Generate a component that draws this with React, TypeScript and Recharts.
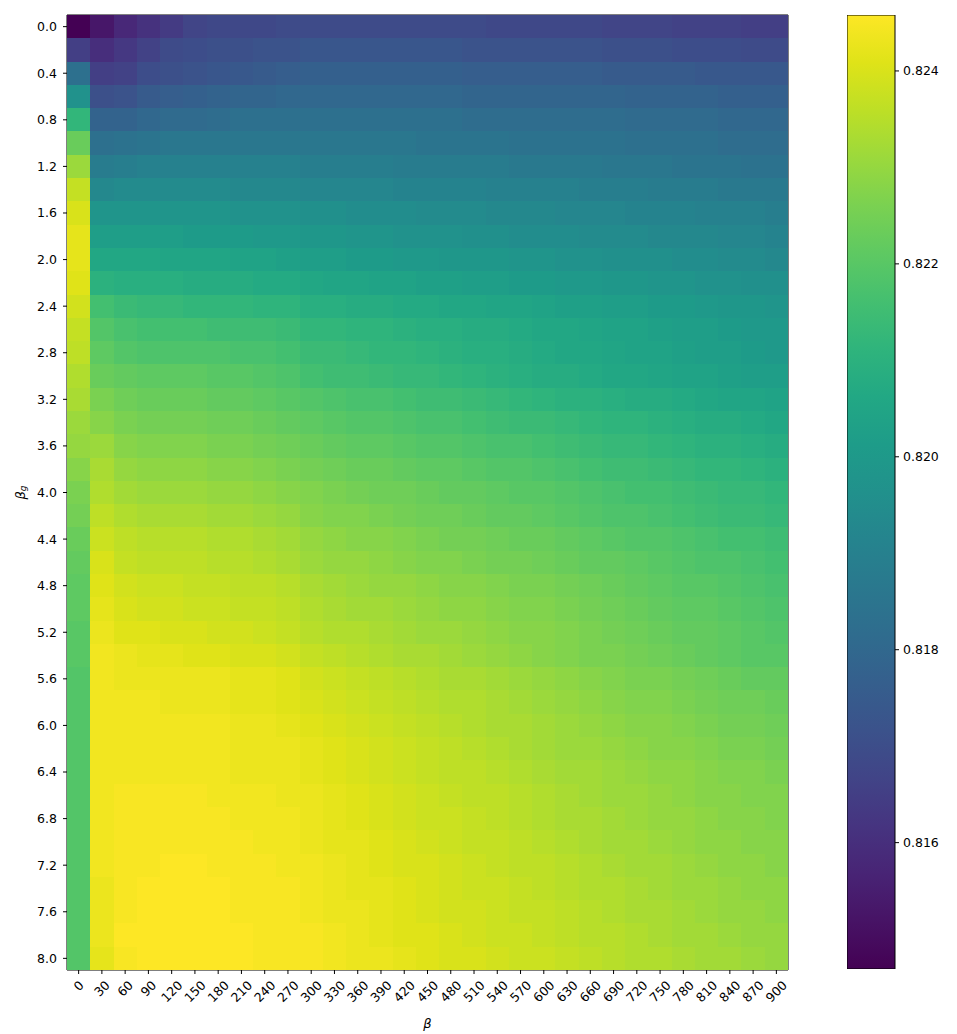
import React from 'react';
import {
  ScatterChart,
  Scatter,
  XAxis,
  YAxis,
  ReferenceArea,
  Label,
  BarChart,
  Bar,
} from 'recharts';

// beta (columns) and beta_g (rows)
const betas = [
  0, 30, 60, 90, 120, 150, 180, 210, 240, 270, 300, 330, 360, 390, 420, 450,
  480, 510, 540, 570, 600, 630, 660, 690, 720, 750, 780, 810, 840, 870, 900,
];
const betaG = [
  0.0, 0.2, 0.4, 0.6, 0.8, 1.0, 1.2, 1.4, 1.6, 1.8, 2.0, 2.2, 2.4, 2.6, 2.8,
  3.0, 3.2, 3.4, 3.6, 3.8, 4.0, 4.2, 4.4, 4.6, 4.8, 5.0, 5.2, 5.4, 5.6, 5.8,
  6.0, 6.2, 6.4, 6.6, 6.8, 7.0, 7.2, 7.4, 7.6, 7.8, 8.0,
];

// one row per beta_g, one value per beta
const scores = [
  [0.8147,0.8153,0.8158,0.8161,0.8164,0.8167,0.8168,0.8168,0.8168,0.8169,0.8169,0.8169,0.8169,0.8169,0.8169,0.8169,0.8169,0.8169,0.8168,0.8168,0.8168,0.8168,0.8168,0.8167,0.8167,0.8167,0.8166,0.8166,0.8166,0.8165,0.8165],
  [0.8165,0.8160,0.8163,0.8166,0.8169,0.8170,0.8171,0.8171,0.8172,0.8172,0.8173,0.8173,0.8173,0.8173,0.8173,0.8173,0.8173,0.8172,0.8172,0.8172,0.8172,0.8172,0.8172,0.8171,0.8171,0.8171,0.8170,0.8170,0.8170,0.8169,0.8169],
  [0.8183,0.8165,0.8166,0.8170,0.8171,0.8172,0.8173,0.8174,0.8175,0.8176,0.8177,0.8177,0.8177,0.8177,0.8177,0.8177,0.8177,0.8176,0.8176,0.8176,0.8176,0.8176,0.8176,0.8175,0.8175,0.8175,0.8175,0.8174,0.8174,0.8174,0.8174],
  [0.8197,0.8171,0.8172,0.8175,0.8176,0.8177,0.8178,0.8179,0.8179,0.8180,0.8180,0.8180,0.8180,0.8180,0.8180,0.8180,0.8180,0.8179,0.8179,0.8179,0.8179,0.8179,0.8179,0.8179,0.8178,0.8178,0.8178,0.8178,0.8177,0.8177,0.8177],
  [0.8212,0.8178,0.8178,0.8180,0.8181,0.8181,0.8182,0.8183,0.8183,0.8183,0.8183,0.8183,0.8183,0.8183,0.8183,0.8183,0.8183,0.8182,0.8182,0.8182,0.8182,0.8182,0.8182,0.8182,0.8181,0.8181,0.8181,0.8181,0.8180,0.8180,0.8180],
  [0.8223,0.8183,0.8184,0.8185,0.8186,0.8186,0.8186,0.8186,0.8186,0.8186,0.8186,0.8186,0.8186,0.8186,0.8186,0.8185,0.8185,0.8185,0.8185,0.8184,0.8184,0.8184,0.8184,0.8184,0.8183,0.8183,0.8183,0.8183,0.8182,0.8182,0.8182],
  [0.8231,0.8188,0.8189,0.8190,0.8190,0.8190,0.8190,0.8190,0.8190,0.8190,0.8189,0.8189,0.8189,0.8189,0.8188,0.8188,0.8188,0.8188,0.8188,0.8187,0.8187,0.8187,0.8187,0.8186,0.8186,0.8186,0.8185,0.8185,0.8185,0.8184,0.8184],
  [0.8237,0.8193,0.8194,0.8194,0.8194,0.8194,0.8194,0.8193,0.8193,0.8193,0.8192,0.8192,0.8192,0.8192,0.8191,0.8191,0.8191,0.8191,0.8190,0.8190,0.8190,0.8190,0.8189,0.8189,0.8189,0.8188,0.8188,0.8188,0.8187,0.8187,0.8187],
  [0.8240,0.8198,0.8198,0.8198,0.8198,0.8198,0.8198,0.8197,0.8197,0.8197,0.8196,0.8196,0.8195,0.8195,0.8195,0.8194,0.8194,0.8194,0.8193,0.8193,0.8193,0.8192,0.8192,0.8192,0.8191,0.8191,0.8191,0.8190,0.8190,0.8190,0.8189],
  [0.8242,0.8202,0.8202,0.8202,0.8202,0.8201,0.8201,0.8201,0.8200,0.8200,0.8199,0.8199,0.8198,0.8198,0.8197,0.8197,0.8197,0.8196,0.8196,0.8195,0.8195,0.8195,0.8194,0.8194,0.8194,0.8193,0.8193,0.8193,0.8192,0.8192,0.8191],
  [0.8242,0.8206,0.8206,0.8206,0.8205,0.8205,0.8205,0.8204,0.8204,0.8203,0.8202,0.8202,0.8201,0.8201,0.8200,0.8200,0.8199,0.8199,0.8199,0.8198,0.8198,0.8197,0.8197,0.8196,0.8196,0.8196,0.8195,0.8195,0.8194,0.8194,0.8193],
  [0.8241,0.8210,0.8209,0.8209,0.8209,0.8208,0.8208,0.8208,0.8207,0.8207,0.8206,0.8205,0.8205,0.8204,0.8204,0.8203,0.8203,0.8202,0.8202,0.8201,0.8201,0.8200,0.8200,0.8199,0.8199,0.8198,0.8198,0.8197,0.8197,0.8196,0.8196],
  [0.8239,0.8216,0.8214,0.8213,0.8213,0.8212,0.8212,0.8212,0.8211,0.8211,0.8209,0.8209,0.8208,0.8208,0.8207,0.8207,0.8206,0.8206,0.8205,0.8205,0.8204,0.8203,0.8203,0.8202,0.8202,0.8201,0.8201,0.8200,0.8199,0.8199,0.8198],
  [0.8237,0.8219,0.8217,0.8216,0.8216,0.8216,0.8215,0.8215,0.8215,0.8214,0.8212,0.8212,0.8211,0.8211,0.8210,0.8209,0.8209,0.8208,0.8208,0.8207,0.8206,0.8206,0.8205,0.8204,0.8204,0.8203,0.8202,0.8202,0.8201,0.8200,0.8200],
  [0.8236,0.8221,0.8219,0.8218,0.8218,0.8218,0.8218,0.8217,0.8217,0.8216,0.8214,0.8214,0.8213,0.8212,0.8212,0.8211,0.8210,0.8209,0.8209,0.8208,0.8207,0.8206,0.8206,0.8205,0.8204,0.8204,0.8203,0.8202,0.8202,0.8201,0.8200],
  [0.8234,0.8223,0.8222,0.8221,0.8221,0.8221,0.8220,0.8220,0.8219,0.8218,0.8216,0.8215,0.8215,0.8214,0.8213,0.8213,0.8212,0.8211,0.8210,0.8209,0.8208,0.8208,0.8207,0.8206,0.8206,0.8205,0.8204,0.8204,0.8203,0.8202,0.8202],
  [0.8233,0.8226,0.8224,0.8223,0.8223,0.8223,0.8222,0.8222,0.8221,0.8220,0.8219,0.8218,0.8217,0.8217,0.8216,0.8215,0.8215,0.8214,0.8213,0.8212,0.8211,0.8210,0.8210,0.8209,0.8208,0.8208,0.8207,0.8206,0.8205,0.8205,0.8204],
  [0.8231,0.8228,0.8226,0.8225,0.8225,0.8225,0.8224,0.8224,0.8223,0.8222,0.8221,0.8220,0.8219,0.8219,0.8218,0.8217,0.8217,0.8216,0.8215,0.8214,0.8214,0.8213,0.8212,0.8211,0.8211,0.8210,0.8209,0.8208,0.8208,0.8207,0.8206],
  [0.8230,0.8231,0.8228,0.8227,0.8227,0.8227,0.8226,0.8226,0.8225,0.8224,0.8223,0.8222,0.8221,0.8221,0.8220,0.8219,0.8219,0.8218,0.8217,0.8217,0.8216,0.8215,0.8214,0.8213,0.8213,0.8212,0.8211,0.8210,0.8210,0.8209,0.8208],
  [0.8228,0.8233,0.8230,0.8229,0.8229,0.8229,0.8228,0.8228,0.8227,0.8226,0.8225,0.8224,0.8223,0.8223,0.8222,0.8221,0.8221,0.8220,0.8219,0.8219,0.8218,0.8217,0.8216,0.8215,0.8215,0.8214,0.8213,0.8212,0.8212,0.8211,0.8210],
  [0.8226,0.8234,0.8232,0.8231,0.8231,0.8231,0.8230,0.8230,0.8229,0.8228,0.8227,0.8226,0.8225,0.8224,0.8224,0.8223,0.8222,0.8222,0.8221,0.8220,0.8220,0.8219,0.8218,0.8217,0.8216,0.8216,0.8215,0.8214,0.8213,0.8213,0.8212],
  [0.8225,0.8236,0.8234,0.8233,0.8233,0.8233,0.8232,0.8232,0.8231,0.8230,0.8228,0.8227,0.8227,0.8226,0.8225,0.8224,0.8224,0.8223,0.8222,0.8222,0.8221,0.8220,0.8219,0.8218,0.8218,0.8217,0.8216,0.8215,0.8214,0.8214,0.8213],
  [0.8223,0.8238,0.8236,0.8235,0.8235,0.8235,0.8234,0.8234,0.8233,0.8232,0.8230,0.8229,0.8228,0.8228,0.8227,0.8226,0.8225,0.8225,0.8224,0.8223,0.8223,0.8222,0.8221,0.8220,0.8219,0.8219,0.8218,0.8217,0.8216,0.8216,0.8215],
  [0.8222,0.8240,0.8237,0.8236,0.8236,0.8236,0.8235,0.8235,0.8234,0.8233,0.8231,0.8230,0.8230,0.8229,0.8228,0.8227,0.8227,0.8226,0.8225,0.8225,0.8224,0.8223,0.8222,0.8222,0.8221,0.8220,0.8219,0.8218,0.8218,0.8217,0.8216],
  [0.8221,0.8241,0.8239,0.8238,0.8238,0.8237,0.8237,0.8236,0.8236,0.8235,0.8233,0.8232,0.8231,0.8230,0.8230,0.8229,0.8228,0.8228,0.8227,0.8226,0.8226,0.8225,0.8224,0.8223,0.8222,0.8221,0.8220,0.8220,0.8219,0.8218,0.8217],
  [0.8221,0.8242,0.8240,0.8239,0.8239,0.8238,0.8238,0.8237,0.8237,0.8236,0.8234,0.8233,0.8232,0.8232,0.8231,0.8230,0.8229,0.8229,0.8228,0.8227,0.8227,0.8226,0.8225,0.8224,0.8223,0.8222,0.8221,0.8221,0.8220,0.8219,0.8218],
  [0.8220,0.8243,0.8241,0.8241,0.8240,0.8240,0.8239,0.8239,0.8238,0.8237,0.8235,0.8234,0.8234,0.8233,0.8232,0.8231,0.8231,0.8230,0.8229,0.8228,0.8228,0.8227,0.8226,0.8225,0.8224,0.8223,0.8222,0.8222,0.8221,0.8220,0.8219],
  [0.8220,0.8244,0.8243,0.8242,0.8242,0.8241,0.8241,0.8240,0.8240,0.8239,0.8237,0.8236,0.8235,0.8234,0.8233,0.8233,0.8232,0.8231,0.8230,0.8229,0.8228,0.8227,0.8226,0.8226,0.8225,0.8224,0.8223,0.8222,0.8221,0.8220,0.8220],
  [0.8219,0.8244,0.8243,0.8243,0.8243,0.8243,0.8243,0.8242,0.8242,0.8241,0.8239,0.8238,0.8237,0.8236,0.8235,0.8234,0.8233,0.8233,0.8232,0.8231,0.8230,0.8229,0.8228,0.8227,0.8226,0.8226,0.8225,0.8224,0.8223,0.8222,0.8222],
  [0.8219,0.8244,0.8244,0.8244,0.8243,0.8243,0.8243,0.8242,0.8242,0.8241,0.8240,0.8239,0.8238,0.8237,0.8236,0.8235,0.8234,0.8234,0.8233,0.8232,0.8231,0.8230,0.8229,0.8228,0.8227,0.8227,0.8226,0.8225,0.8224,0.8224,0.8223],
  [0.8219,0.8244,0.8244,0.8244,0.8244,0.8244,0.8244,0.8243,0.8243,0.8242,0.8241,0.8240,0.8239,0.8238,0.8237,0.8236,0.8235,0.8234,0.8233,0.8233,0.8232,0.8231,0.8230,0.8229,0.8228,0.8228,0.8227,0.8226,0.8225,0.8225,0.8224],
  [0.8219,0.8244,0.8244,0.8244,0.8244,0.8244,0.8244,0.8243,0.8243,0.8243,0.8242,0.8241,0.8240,0.8239,0.8238,0.8237,0.8236,0.8235,0.8234,0.8233,0.8232,0.8231,0.8231,0.8230,0.8229,0.8228,0.8228,0.8227,0.8226,0.8226,0.8225],
  [0.8219,0.8244,0.8244,0.8244,0.8244,0.8244,0.8244,0.8243,0.8243,0.8243,0.8242,0.8241,0.8240,0.8239,0.8238,0.8237,0.8236,0.8236,0.8235,0.8234,0.8233,0.8232,0.8232,0.8231,0.8230,0.8229,0.8229,0.8228,0.8227,0.8227,0.8226],
  [0.8219,0.8244,0.8245,0.8245,0.8245,0.8245,0.8244,0.8244,0.8244,0.8243,0.8243,0.8242,0.8241,0.8240,0.8239,0.8238,0.8237,0.8236,0.8236,0.8235,0.8234,0.8233,0.8232,0.8231,0.8231,0.8230,0.8229,0.8228,0.8228,0.8227,0.8227],
  [0.8219,0.8244,0.8245,0.8245,0.8245,0.8245,0.8245,0.8244,0.8244,0.8244,0.8243,0.8242,0.8241,0.8240,0.8239,0.8238,0.8238,0.8237,0.8236,0.8235,0.8234,0.8233,0.8233,0.8232,0.8231,0.8230,0.8230,0.8229,0.8228,0.8228,0.8227],
  [0.8219,0.8244,0.8245,0.8245,0.8245,0.8245,0.8245,0.8245,0.8244,0.8244,0.8243,0.8242,0.8242,0.8241,0.8240,0.8239,0.8238,0.8237,0.8237,0.8236,0.8235,0.8234,0.8233,0.8232,0.8232,0.8231,0.8230,0.8229,0.8229,0.8228,0.8228],
  [0.8219,0.8244,0.8245,0.8245,0.8246,0.8246,0.8245,0.8245,0.8245,0.8244,0.8244,0.8243,0.8242,0.8241,0.8240,0.8240,0.8239,0.8238,0.8237,0.8236,0.8236,0.8235,0.8234,0.8233,0.8232,0.8232,0.8231,0.8230,0.8229,0.8229,0.8228],
  [0.8219,0.8243,0.8245,0.8246,0.8246,0.8246,0.8246,0.8245,0.8245,0.8245,0.8244,0.8243,0.8242,0.8242,0.8241,0.8240,0.8239,0.8238,0.8238,0.8237,0.8236,0.8235,0.8234,0.8234,0.8233,0.8232,0.8231,0.8231,0.8230,0.8229,0.8229],
  [0.8219,0.8243,0.8245,0.8246,0.8246,0.8246,0.8246,0.8245,0.8245,0.8245,0.8244,0.8243,0.8243,0.8242,0.8241,0.8240,0.8239,0.8239,0.8238,0.8237,0.8237,0.8236,0.8235,0.8234,0.8233,0.8233,0.8232,0.8231,0.8230,0.8230,0.8229],
  [0.8219,0.8243,0.8246,0.8246,0.8246,0.8246,0.8246,0.8246,0.8245,0.8245,0.8245,0.8244,0.8243,0.8242,0.8241,0.8241,0.8240,0.8239,0.8238,0.8238,0.8237,0.8236,0.8235,0.8235,0.8234,0.8233,0.8232,0.8232,0.8231,0.8230,0.8230],
  [0.8219,0.8242,0.8245,0.8246,0.8246,0.8246,0.8246,0.8246,0.8245,0.8245,0.8245,0.8244,0.8243,0.8243,0.8242,0.8241,0.8240,0.8240,0.8239,0.8238,0.8238,0.8237,0.8236,0.8235,0.8234,0.8234,0.8233,0.8232,0.8232,0.8231,0.8230],
];

// colour bar range and ticks
const cbarMin = 0.81469;
const cbarMax = 0.82458;
const cbarTicks = [0.816, 0.818, 0.82, 0.822, 0.824];

const viridisStops = [
  '#440154', '#471365', '#482475', '#463480', '#414487', '#3b528b', '#355f8d',
  '#2f6c8e', '#2a788e', '#25848e', '#21918c', '#1e9c89', '#22a884', '#2fb47c',
  '#44bf70', '#5ec962', '#7ad151', '#9bd93c', '#bddf26', '#dfe318', '#fde725',
];

function hexToRgb(h: string) {
  return [1, 3, 5].map((i) => parseInt(h.slice(i, i + 2), 16));
}

function viridis(v: number) {
  let t = (v - cbarMin) / (cbarMax - cbarMin);
  t = Math.max(0, Math.min(1, t));
  const pos = t * (viridisStops.length - 1);
  const i = Math.min(Math.floor(pos), viridisStops.length - 2);
  const f = pos - i;
  const a = hexToRgb(viridisStops[i]);
  const b = hexToRgb(viridisStops[i + 1]);
  const c = a.map((x, k) => Math.round(x + (b[k] - x) * f));
  return `rgb(${c[0]},${c[1]},${c[2]})`;
}

const cells = scores.flatMap((row, r) =>
  row.map((v, c) => ({ col: c, row: r, v }))
);

const CHART_W = 800;
const CHART_H = 1034;
const MARGIN = { top: 15, right: 12, bottom: 0, left: 0 };
const Y_AXIS_W = 67;
const X_AXIS_H = 64;
const plotW = CHART_W - MARGIN.left - MARGIN.right - Y_AXIS_W;
const plotH = CHART_H - MARGIN.top - MARGIN.bottom - X_AXIS_H;
const cellW = plotW / betas.length;
const cellH = plotH / betaG.length;

const FONT = 'DejaVu Sans, sans-serif';
const TICK_FS = 12.5;

function HeatCell(props: any) {
  const { cx, cy, payload } = props;
  if (cx == null || cy == null) return null;
  return (
    <rect
      x={cx - cellW / 2}
      y={cy - cellH / 2}
      width={cellW + 0.5}
      height={cellH + 0.5}
      fill={viridis(payload.v)}
      shapeRendering="crispEdges"
    />
  );
}

function BetaTick(props: any) {
  const { x, y, payload } = props;
  const label = String(betas[payload.value]);
  const w = label.length * 0.636 * TICK_FS;
  const h = 11;
  const cy = y + 3 + (w + h) / 2.83;
  return (
    <text
      x={x}
      y={cy}
      textAnchor="middle"
      dominantBaseline="central"
      transform={`rotate(-45, ${x}, ${cy})`}
      fontSize={TICK_FS}
      fontFamily={FONT}
      fill="#000"
    >
      {label}
    </text>
  );
}

function BetaGTitle(props: any) {
  const { viewBox } = props;
  const x = viewBox.x + 20;
  const y = viewBox.y + viewBox.height / 2;
  return (
    <text
      x={x}
      y={y}
      textAnchor="middle"
      dominantBaseline="central"
      transform={`rotate(-90, ${x}, ${y})`}
      fontSize={13}
      fontFamily={FONT}
      fontStyle="italic"
      fill="#000"
    >
      β
      <tspan fontSize={9} dy={3}>
        g
      </tspan>
    </text>
  );
}

const cbarData = [{ name: 'score', range: [cbarMin, cbarMax] }];

export default function App() {
  const yTicks = betaG.map((_, i) => i).filter((i) => i % 2 === 0);
  return (
    <div
      style={{
        position: 'absolute',
        left: 0,
        top: 0,
        width: 957,
        height: 1034,
        background: '#fff',
        fontFamily: FONT,
      }}
    >
      <svg width={0} height={0} style={{ position: 'absolute' }}>
        <defs>
          <linearGradient id="viridisBar" x1="0" y1="1" x2="0" y2="0">
            {viridisStops.map((c, i) => (
              <stop
                key={c}
                offset={`${(i / (viridisStops.length - 1)) * 100}%`}
                stopColor={c}
              />
            ))}
          </linearGradient>
        </defs>
      </svg>

      <div style={{ position: 'absolute', left: 0, top: 0 }}>
        <ScatterChart width={CHART_W} height={CHART_H} margin={MARGIN}>
          <XAxis
            type="number"
            dataKey="col"
            domain={[-0.5, betas.length - 0.5]}
            ticks={betas.map((_, i) => i)}
            interval={0}
            allowDataOverflow
            height={X_AXIS_H}
            axisLine={false}
            tickLine={{ stroke: '#000' }}
            tickSize={4}
            tick={<BetaTick />}
          >
            <Label
              value="β"
              position="insideBottom"
              offset={6}
              fontSize={13}
              fontStyle="italic"
              fontFamily={FONT}
              fill="#000"
            />
          </XAxis>
          <YAxis
            type="number"
            dataKey="row"
            reversed
            domain={[-0.5, betaG.length - 0.5]}
            ticks={yTicks}
            interval={0}
            allowDataOverflow
            width={Y_AXIS_W}
            axisLine={false}
            tickLine={{ stroke: '#000' }}
            tickSize={4}
            tickMargin={6}
            tickFormatter={(i: number) => betaG[i].toFixed(1)}
            tick={{ fill: '#000', fontSize: TICK_FS, fontFamily: FONT }}
          >
            <Label content={<BetaGTitle />} position="left" />
          </YAxis>
          <Scatter
            data={cells}
            shape={<HeatCell />}
            isAnimationActive={false}
          />
          <ReferenceArea
            x1={-0.5}
            x2={betas.length - 0.5}
            y1={-0.5}
            y2={betaG.length - 0.5}
            fill="none"
            fillOpacity={0}
            stroke="#000"
            strokeWidth={1}
            ifOverflow="visible"
          />
        </ScatterChart>
      </div>

      <div style={{ position: 'absolute', left: 847, top: 0 }}>
        <BarChart
          width={108}
          height={CHART_H}
          data={cbarData}
          margin={{ top: 15, right: 12, bottom: 65, left: 0 }}
          barCategoryGap={0}
        >
          <XAxis dataKey="name" hide />
          <YAxis
            orientation="right"
            type="number"
            domain={[cbarMin, cbarMax]}
            ticks={cbarTicks}
            allowDataOverflow
            width={48}
            axisLine={false}
            tickLine={{ stroke: '#000' }}
            tickSize={4}
            tickMargin={4}
            tickFormatter={(v: number) => v.toFixed(3)}
            tick={{ fill: '#000', fontSize: TICK_FS, fontFamily: FONT }}
          />
          <Bar
            dataKey="range"
            fill="url(#viridisBar)"
            stroke="#000"
            strokeWidth={1}
            isAnimationActive={false}
          />
        </BarChart>
      </div>
    </div>
  );
}
